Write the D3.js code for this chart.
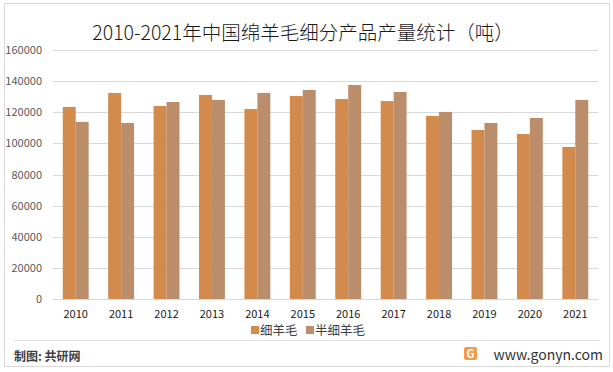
<!DOCTYPE html>
<html>
<head>
<meta charset="utf-8">
<script src="https://cdn.jsdelivr.net/npm/d3@7"></script>
<style>
  body { margin: 0; background: #fff; }
  svg { display: block; font-family: "Noto Sans CJK SC", "DejaVu Sans", sans-serif; }
</style>
</head>
<body>
<svg id="chart" width="613" height="372"></svg>
<script>
const years = ["2010", "2011", "2012", "2013", "2014", "2015", "2016", "2017", "2018", "2019", "2020", "2021"];
const fineWool = [123400, 132400, 124000, 131100, 122100, 130400, 128500, 127200, 117600, 108600, 106000, 97700];
const semiFineWool = [113800, 113100, 126600, 127900, 132400, 134300, 137500, 133000, 120200, 113100, 116300, 127900];
const seriesNames = ["细羊毛", "半细羊毛"];
const yTicks = [0, 20000, 40000, 60000, 80000, 100000, 120000, 140000, 160000];

const colors = ["#D38A4D", "#BB8D6B"];

var svg = d3.select("#chart");

// outer frame
svg.append("rect")
  .attr("x", 4.5).attr("y", 3.5)
  .attr("width", 605).attr("height", 363)
  .attr("fill", "#fff")
  .attr("stroke", "#d9d9d9");

svg.append("text")
  .attr("x", 303).attr("y", 40)
  .attr("text-anchor", "middle")
  .attr("font-size", "19.5px")
  .attr("font-weight", 300)
  .attr("fill", "#1a1a1a")
  .text("2010-2021年中国绵羊毛细分产品产量统计（吨）");

var plotLeft = 53, plotRight = 598, plotTop = 50, plotBottom = 299;

var xScale = d3.scaleBand().domain(years).range([plotLeft, plotRight]).paddingInner(0.43).paddingOuter(0.215);
var xSub = d3.scaleBand().domain([0, 1]).range([0, xScale.bandwidth()]);
var yScale = d3.scaleLinear().domain([0, 160000]).range([plotBottom, plotTop]);

// gridlines
svg.append("g")
  .selectAll("line")
  .data(yTicks)
  .enter()
  .append("line")
  .attr("x1", plotLeft).attr("x2", plotRight)
  .attr("y1", d => Math.round(yScale(d)) + 0.5)
  .attr("y2", d => Math.round(yScale(d)) + 0.5)
  .attr("stroke", "#d9d9d9")
  .attr("stroke-width", 1);

// y labels
svg.append("g")
  .selectAll("text")
  .data(yTicks)
  .enter()
  .append("text")
  .attr("x", 42)
  .attr("y", d => yScale(d) + 4)
  .attr("text-anchor", "end")
  .attr("font-size", "11px")
  .attr("fill", "#595959")
  .text(d => d);

var series = [fineWool, semiFineWool];
series.forEach(function (vals, s) {
  svg.append("g")
    .selectAll("rect")
    .data(vals)
    .enter()
    .append("rect")
    .attr("x", (d, i) => xScale(years[i]) + xSub(s))
    .attr("y", d => yScale(d))
    .attr("width", xSub.bandwidth())
    .attr("height", d => yScale(0) - yScale(d))
    .attr("fill", colors[s]);
});

// x labels
svg.append("g")
  .selectAll("text")
  .data(years)
  .enter()
  .append("text")
  .attr("x", d => xScale(d) + xScale.bandwidth() / 2)
  .attr("y", 318)
  .attr("text-anchor", "middle")
  .attr("font-size", "11px")
  .attr("fill", "#1a1a1a")
  .text(d => d);

// legend
var legendX = [251, 306];
seriesNames.forEach(function (name, i) {
  svg.append("rect")
    .attr("x", legendX[i]).attr("y", 326)
    .attr("width", 8).attr("height", 8)
    .attr("fill", colors[i]);
  svg.append("text")
    .attr("x", legendX[i] + 9).attr("y", 335)
    .attr("font-size", "12.5px")
    .attr("fill", "#404040")
    .text(name);
});

// footer
svg.append("line")
  .attr("x1", 14).attr("x2", 600)
  .attr("y1", 340.5).attr("y2", 340.5)
  .attr("stroke", "#e0e0e0");

svg.append("text")
  .attr("x", 14).attr("y", 361)
  .attr("font-size", "12px")
  .attr("font-weight", "bold")
  .attr("fill", "#404040")
  .text("制图: 共研网");

var logo = svg.append("g").attr("transform", "translate(464,347)");
logo.append("rect").attr("width", 13).attr("height", 13).attr("rx", 2).attr("fill", "#F39A4C");
logo.append("text").attr("x", 6.5).attr("y", 11).attr("text-anchor", "middle")
  .attr("font-size", "11px").attr("font-weight", "bold").attr("fill", "#fff").text("G");

svg.append("text")
  .attr("x", 603).attr("y", 360)
  .attr("text-anchor", "end")
  .attr("font-size", "14px")
  .attr("fill", "#333")
  .text("www.gonyn.com");
</script>
</body>
</html>
